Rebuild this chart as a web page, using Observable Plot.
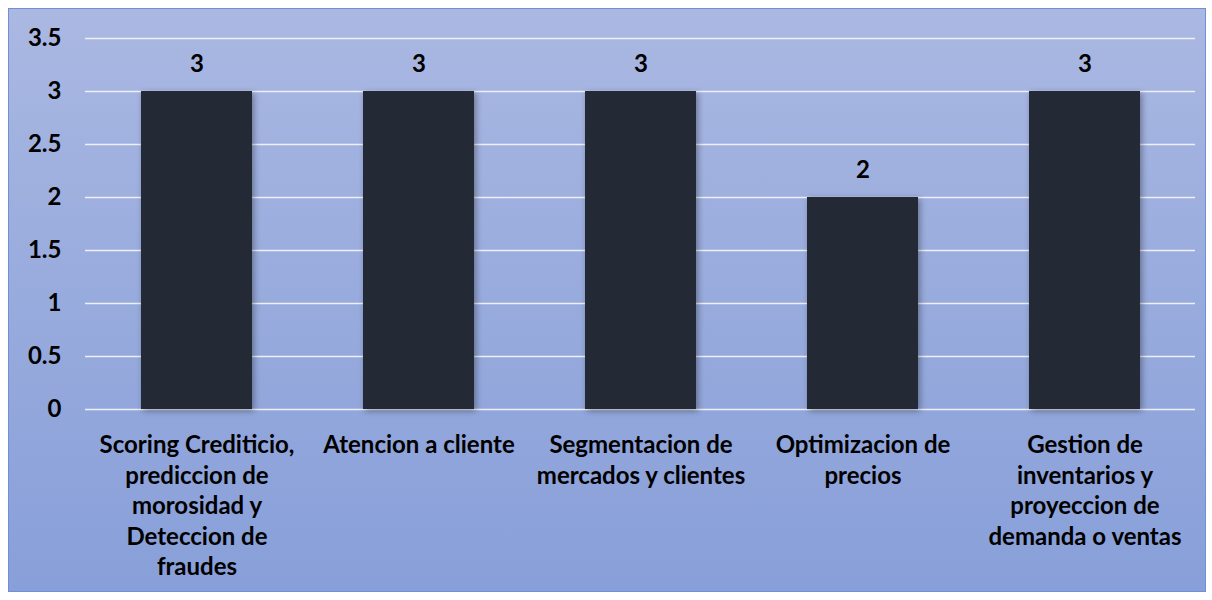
<!DOCTYPE html>
<html>
<head>
<meta charset="utf-8">
<script src="https://cdn.jsdelivr.net/npm/d3@7"></script>
<script src="https://cdn.jsdelivr.net/npm/@observablehq/plot@0.6"></script>
<style>
  html, body { margin: 0; padding: 0; background: #ffffff; }
  #frame {
    position: absolute; left: 8px; top: 8px;
    width: 1196px; height: 582px;
    border: 1px solid #6f8fd8;
    background: linear-gradient(to bottom, #aab8e2 0%, #98abdd 50%, #889fd9 100%);
    overflow: hidden;
  }
  #frame svg { position: absolute; left: 0; top: 0; background: transparent; }
  .bars rect { filter: drop-shadow(2px 2px 3px rgba(0,0,0,0.35)); }
</style>
</head>
<body>
<div id="frame"></div>
<script>
const categories = [
  "Scoring Crediticio,\nprediccion de\nmorosidad y\nDeteccion de\nfraudes",
  "Atencion a cliente",
  "Segmentacion de\nmercados y clientes",
  "Optimizacion de\nprecios",
  "Gestion de\ninventarios y\nproyeccion de\ndemanda o ventas"
];
const values = [3, 3, 3, 2, 3];
const yTicks = [0, 0.5, 1, 1.5, 2, 2.5, 3, 3.5];

const data = categories.map((c, i) => ({category: c, value: values[i]}));
const font = "Lato, 'Open Sans', sans-serif";

const chart = Plot.plot({
  width: 1196,
  height: 582,
  marginLeft: 76,
  marginRight: 10,
  marginTop: 29,
  marginBottom: 182,
  style: {background: "transparent", fontFamily: font, color: "#000"},
  x: {domain: categories, paddingInner: 0.5, paddingOuter: 0.25, label: null},
  y: {domain: [0, 3.5], label: null},
  marks: [
    Plot.gridY(yTicks, {stroke: "#eef0f6", strokeOpacity: 1, strokeWidth: 1.6}),
    Plot.barY(data, {x: "category", y: "value", fill: "#232a36", className: "bars"}),
    Plot.text(data, {x: "category", y: "value", text: d => String(d.value), dy: -27,
      fontSize: 24, fontWeight: "bold", fill: "#000"}),
    Plot.axisY(yTicks, {tickSize: 0, tickPadding: 24, fontSize: 24, fontWeight: "bold",
      tickFormat: d => String(d), fill: "#000"}),
    Plot.axisX({tickSize: 0, tickPadding: 22, fontSize: 24, fontWeight: "bold",
      lineHeight: 1.27, fill: "#000"})
  ]
});
document.getElementById("frame").appendChild(chart);
</script>
</body>
</html>
